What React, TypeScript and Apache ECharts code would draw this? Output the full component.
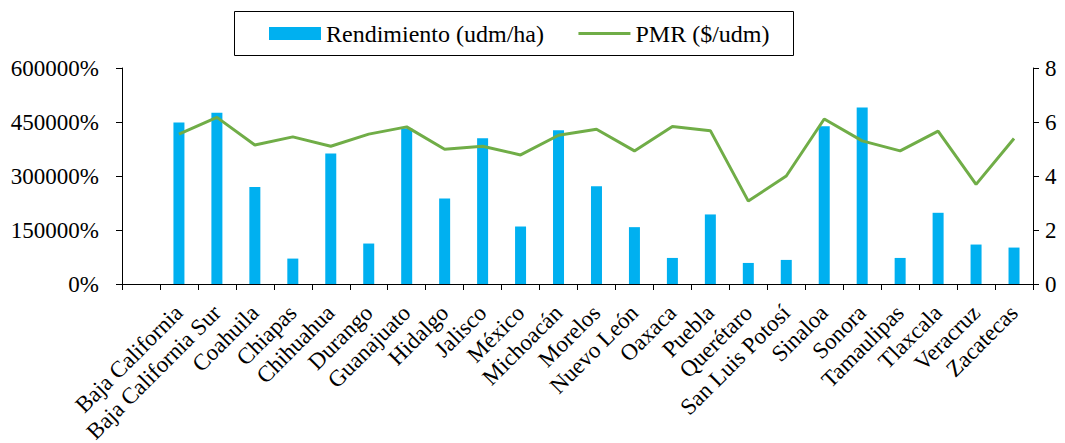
import React, { useEffect, useRef } from "react";
import * as echarts from "echarts";

const categories = [
  "",
  "Baja California",
  "Baja California Sur",
  "Coahuila",
  "Chiapas",
  "Chihuahua",
  "Durango",
  "Guanajuato",
  "Hidalgo",
  "Jalisco",
  "México",
  "Michoacán",
  "Morelos",
  "Nuevo León",
  "Oaxaca",
  "Puebla",
  "Querétaro",
  "San Luis Potosí",
  "Sinaloa",
  "Sonora",
  "Tamaulipas",
  "Tlaxcala",
  "Veracruz",
  "Zacatecas",
];

// Rendimiento (udm/ha), displayed as percent values on the left axis
const rendimiento = [
  null, 448600, 475500, 269300, 70600, 362200, 112400, 432800, 237800, 404900,
  159700, 427200, 271200, 157900, 72400, 193200, 58500, 66900, 438400, 490400,
  72400, 197800, 109600, 101200,
];

// PMR ($/udm), right axis
const pmr = [
  null, 5.55, 6.17, 5.15, 5.45, 5.1, 5.55, 5.82, 4.99, 5.1, 4.78, 5.51, 5.73,
  4.93, 5.83, 5.68, 3.07, 4.0, 6.11, 5.3, 4.93, 5.66, 3.69, 5.39,
];

const leftTicks = { min: 0, max: 600000, interval: 150000 };
const rightTicks = { min: 0, max: 8, interval: 2 };

const FONT = "'Liberation Serif', 'Times New Roman', serif";

export default function App() {
  const ref = useRef<HTMLDivElement>(null);

  useEffect(() => {
    if (!ref.current) return;
    const chart = echarts.init(ref.current, undefined, { renderer: "svg" });
    chart.setOption({
      animation: false,
      textStyle: { fontFamily: FONT, color: "#000" },
      graphic: [
        {
          type: "rect",
          shape: { x: 234.5, y: 11.5, width: 559, height: 44 },
          style: { fill: "none", stroke: "#000", lineWidth: 1 },
          z: 100,
        },
      ],
      legend: {
        left: 269,
        top: 21,
        padding: 0,
        itemGap: 33,
        itemWidth: 52,
        itemHeight: 13,
        textStyle: { fontFamily: FONT, fontSize: 24, color: "#000", lineHeight: 25 },
        data: [
          { name: "Rendimiento (udm/ha)", icon: "rect" },
          {
            name: "PMR ($/udm)",
            itemStyle: { color: "rgba(0,0,0,0)", borderWidth: 0, opacity: 0 },
            lineStyle: { color: "#70AD47", width: 3, opacity: 1 },
          },
        ],
      },
      grid: {
        left: 122,
        right: 32,
        top: 68,
        bottom: 159,
        containLabel: false,
        outerBoundsMode: "none",
      },
      xAxis: {
        type: "category",
        data: categories,
        boundaryGap: true,
        axisLine: { lineStyle: { color: "#000", width: 1 } },
        axisTick: { show: true, interval: 0, length: 6, lineStyle: { color: "#000" } },
        axisLabel: {
          interval: 0,
          rotate: 45,
          margin: 25,
          fontFamily: FONT,
          fontSize: 23,
          color: "#000",
        },
      },
      yAxis: [
        {
          type: "value",
          ...leftTicks,
          axisLine: { show: true, lineStyle: { color: "#000", width: 1 } },
          axisTick: { show: true, length: 6, lineStyle: { color: "#000" } },
          splitLine: { show: false },
          axisLabel: {
            formatter: (v: number) => `${v}%`,
            margin: 23,
            fontFamily: FONT,
            fontSize: 23,
            color: "#000",
          },
        },
        {
          type: "value",
          ...rightTicks,
          position: "right",
          axisLine: { show: true, lineStyle: { color: "#000", width: 1 } },
          axisTick: { show: true, length: 6, lineStyle: { color: "#000" } },
          splitLine: { show: false },
          axisLabel: {
            formatter: (v: number) => `${v}`,
            margin: 12,
            fontFamily: FONT,
            fontSize: 23,
            color: "#000",
          },
        },
      ],
      series: [
        {
          name: "Rendimiento (udm/ha)",
          type: "bar",
          data: rendimiento,
          barWidth: 11,
          itemStyle: { color: "#00B0F0" },
          yAxisIndex: 0,
        },
        {
          name: "PMR ($/udm)",
          type: "line",
          data: pmr,
          yAxisIndex: 1,
          symbol: "none",
          showSymbol: false,
          lineStyle: { color: "#70AD47", width: 3 },
          itemStyle: { color: "#70AD47" },
          z: 3,
        },
      ],
    });
    return () => chart.dispose();
  }, []);

  return (
    <div
      ref={ref}
      style={{ position: "fixed", left: 0, top: 0, width: 1065, height: 443, background: "#fff" }}
    />
  );
}
